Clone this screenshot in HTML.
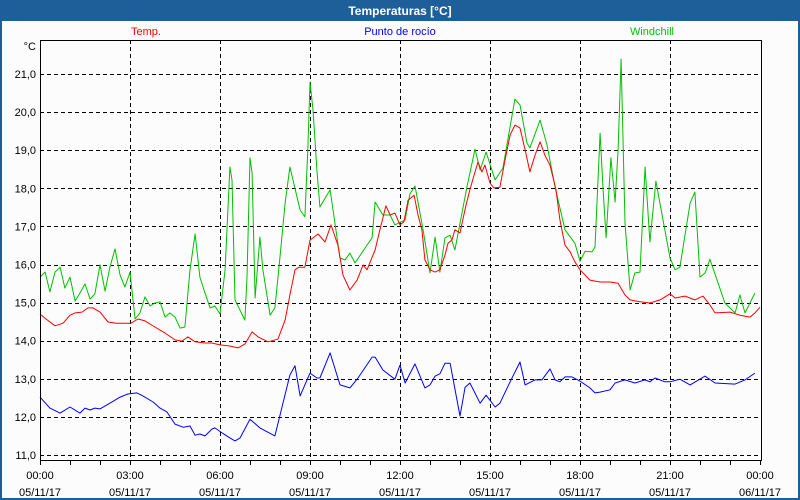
<!DOCTYPE html>
<html><head><meta charset="utf-8"><style>
body{margin:0;background:#fff;}
#win{position:relative;width:800px;height:500px;overflow:hidden;background:#1e5f99;font-family:"Liberation Sans","DejaVu Sans",sans-serif;}
</style></head><body>
<div id="win">
<svg id="c" width="800" height="500" xmlns="http://www.w3.org/2000/svg">
<rect x="2" y="21" width="796" height="477" fill="#fcfcfc"/>
<text x="400" y="15" text-anchor="middle" font-size="12" font-weight="bold" fill="#fff">Temperaturas [°C]</text>
<text x="146" y="35" text-anchor="middle" font-size="11" fill="#ff0000">Temp.</text>
<text x="400" y="35" text-anchor="middle" font-size="11" fill="#0000ff">Punto de rocío</text>
<text x="652" y="35" text-anchor="middle" font-size="11" fill="#00c000">Windchill</text>
<text x="36" y="50" text-anchor="end" font-size="11" fill="#000">°C</text>
<g id="grid" shape-rendering="crispEdges"></g><g id="series"></g><g id="axes"></g>
</svg>
</div>
<script>
const yTicks=[11,12,13,14,15,16,17,18,19,20,21];
const xTicks=[0,3,6,9,12,15,18,21,24];
const xTickTimes=["00:00","03:00","06:00","09:00","12:00","15:00","18:00","21:00","00:00"];
const xTickDates=["05/11/17","05/11/17","05/11/17","05/11/17","05/11/17","05/11/17","05/11/17","05/11/17","06/11/17"];
const tempT=[0,.2,.5,.77,1,1.17,1.4,1.6,1.77,2,2.27,2.53,2.83,3.03,3.27,3.5,3.83,4.17,4.5,4.73,4.93,5.17,5.5,5.73,6,6.33,6.6,6.83,7.07,7.27,7.6,7.93,8.17,8.33,8.5,8.63,8.83,9,9.27,9.5,9.7,9.93,10.1,10.33,10.57,10.77,10.9,11.17,11.33,11.53,11.67,11.83,12,12.13,12.27,12.47,12.6,12.73,12.83,13,13.17,13.33,13.5,13.6,13.73,13.83,14,14.2,14.33,14.47,14.6,14.73,14.83,15,15.13,15.33,15.5,15.67,15.83,16,16.17,16.33,16.5,16.67,16.83,17,17.2,17.33,17.5,17.67,17.83,18,18.33,18.67,19,19.27,19.5,19.67,20,20.33,20.67,21,21.17,21.5,21.83,22.1,22.33,22.5,23,23.33,23.67,23.83,24];
const tempV=[14.7,14.57,14.39,14.46,14.67,14.73,14.75,14.86,14.86,14.75,14.49,14.46,14.46,14.46,14.57,14.52,14.36,14.2,14.02,13.99,14.1,13.97,13.94,13.94,13.89,13.86,13.81,13.91,14.23,14.1,13.97,14.04,14.54,15.2,15.86,15.93,15.93,16.64,16.8,16.59,17.04,16.51,15.72,15.33,15.59,15.99,15.86,16.38,16.91,17.54,17.3,17.35,17.04,17.12,17.69,17.82,17.3,16.91,16.12,15.86,15.8,15.86,16.25,16.56,16.64,16.91,16.83,17.56,17.96,18.35,18.69,18.43,18.61,18.14,18.01,18.03,18.74,19.4,19.66,19.58,19.01,18.43,18.87,19.22,18.87,18.61,17.96,17.17,16.51,16.33,16.07,15.86,15.59,15.54,15.54,15.51,15.2,15.07,15.02,14.99,15.07,15.23,15.12,15.17,15.07,15.17,14.94,14.73,14.75,14.67,14.62,14.73,14.88];
const windT=[0,.17,.33,.5,.67,.83,1,1.17,1.33,1.5,1.67,1.83,2,2.17,2.33,2.5,2.67,2.83,3,3.17,3.33,3.5,3.67,3.83,4,4.17,4.33,4.5,4.67,4.83,5,5.17,5.33,5.5,5.67,5.83,6,6.17,6.33,6.4,6.5,6.83,6.9,7,7.07,7.17,7.33,7.43,7.67,7.83,8,8.17,8.33,8.67,8.83,8.93,9,9.1,9.23,9.33,9.67,10,10.17,10.33,10.5,10.9,11.07,11.17,11.43,11.67,11.83,12.17,12.33,12.5,12.77,13,13.17,13.33,13.5,13.67,13.83,14.23,14.5,14.67,14.87,15.17,15.43,15.83,16,16.23,16.33,16.67,16.9,17.17,17.5,17.83,18,18.17,18.4,18.5,18.67,18.77,18.87,19.03,19.17,19.27,19.37,19.5,19.67,19.83,20,20.17,20.33,20.53,21,21.17,21.33,21.67,21.83,22,22.17,22.33,22.83,23.17,23.33,23.5,23.83];
const windV=[15.67,15.8,15.28,15.8,15.93,15.38,15.67,15.04,15.25,15.49,15.09,15.23,15.99,15.3,15.93,16.41,15.72,15.41,15.8,14.57,14.73,15.15,14.91,14.99,15.02,14.62,14.73,14.62,14.33,14.36,15.86,16.8,15.67,15.25,14.86,14.91,14.7,15.86,18.56,18.22,15.07,14.54,15.67,18.8,18.4,15.12,16.72,15.86,14.67,14.86,16.2,17.61,18.56,17.43,17.25,19.08,20.79,20.06,18.48,17.51,17.96,16.17,16.12,16.3,16.04,16.51,16.7,17.64,17.3,17.3,17.04,17.17,17.85,18.06,16.91,15.78,16.72,15.8,16.7,16.77,16.38,18.03,19.03,18.48,18.95,18.22,18.53,20.34,20.19,19.19,19.06,19.79,19.14,18.03,16.91,16.56,16.09,16.35,16.33,16.46,19.45,17.96,16.7,18.8,17.64,19.01,21.39,17.09,15.33,15.78,15.8,18.56,16.59,18.19,16.17,15.86,15.93,17.61,17.9,15.67,15.78,16.14,14.99,14.73,15.2,14.73,15.25];
const dewT=[0,.33,.67,1,1.33,1.5,1.67,1.83,2,2.33,2.67,2.93,3.23,3.43,3.77,4,4.23,4.5,4.77,5,5.17,5.33,5.5,5.73,5.83,6.07,6.33,6.5,6.67,7,7.33,7.83,8.33,8.5,8.67,9,9.23,9.33,9.67,10,10.33,10.6,11.07,11.17,11.43,11.83,12,12.17,12.5,12.83,13,13.17,13.33,13.5,13.67,14,14.17,14.33,14.67,14.87,15.17,15.33,15.67,16,16.17,16.5,16.73,17,17.17,17.33,17.5,17.73,18,18.33,18.5,18.67,19,19.17,19.5,19.83,20.17,20.33,20.5,20.83,21,21.33,21.67,22.17,22.5,23.17,23.5,23.83];
const dewV=[12.52,12.23,12.1,12.26,12.1,12.23,12.18,12.23,12.21,12.36,12.52,12.6,12.63,12.55,12.39,12.23,12.13,11.81,11.73,11.76,11.52,11.55,11.5,11.68,11.71,11.58,11.45,11.37,11.45,11.94,11.71,11.5,13.1,13.34,12.55,13.15,13.02,13.02,13.68,12.84,12.76,13.02,13.57,13.57,13.23,12.99,13.36,12.89,13.39,12.76,12.84,13.07,13.13,13.41,13.41,12.02,12.78,12.89,12.36,12.57,12.26,12.36,12.92,13.44,12.84,12.97,12.97,13.26,12.97,12.92,13.05,13.05,12.94,12.76,12.63,12.65,12.71,12.89,12.97,12.89,12.97,12.92,13.02,12.92,12.92,12.99,12.84,13.07,12.89,12.86,12.97,13.15];

const NS="http://www.w3.org/2000/svg";
const L=40,R=761,T=40,B=460;
function xs(t){return L+t*30;}
function ys(v){return 455-(v-11)*38.1;}
function mk(tag,attrs,parent){const e=document.createElementNS(NS,tag);for(const k in attrs)e.setAttribute(k,attrs[k]);parent.appendChild(e);return e;}
const grid=document.getElementById('grid'),axes=document.getElementById('axes'),series=document.getElementById('series');
yTicks.forEach(v=>{
  const y=Math.round(ys(v))+0.5;
  const l=mk('line',{x1:L,x2:R,y1:y,y2:y,stroke:'#000','stroke-dasharray':'4,3','stroke-width':1},grid);
  
  
  const tx=mk('text',{x:36,y:ys(v)+4,'text-anchor':'end','font-size':11,fill:'#000'},axes);
  tx.textContent=v.toFixed(1).replace('.',',');
  
  
});
xTicks.forEach((t,i)=>{
  if(t>0&&t<24){
    const l=mk('line',{x1:xs(t)+0.5,x2:xs(t)+0.5,y1:T,y2:B,stroke:'#000','stroke-dasharray':'4,3','stroke-width':1},grid);
    
    
  }
  const a=mk('text',{x:xs(t),y:479,'text-anchor':'middle','font-size':11,fill:'#000'},axes);
  a.textContent=xTickTimes[i];
  
  
  const b=mk('text',{x:xs(t),y:496,'text-anchor':'middle','font-size':11,fill:'#000'},axes);
  b.textContent=xTickDates[i];
  
  
});
for(let h=0;h<=24;h++){
  const l=mk('line',{x1:xs(h)+0.5,x2:xs(h)+0.5,y1:B,y2:B+5,stroke:'#000'},axes);
  
  
}
const frame=mk('rect',{x:L+0.5,y:T+0.5,width:R-L,height:B-T,fill:'none',stroke:'#000','stroke-width':1},axes);


function line(T_,V,color,name){
  const p=T_.map((t,i)=>xs(t).toFixed(1)+','+ys(V[i]).toFixed(1)).join(' ');
  const e=mk('polyline',{points:p,fill:'none',stroke:color,'stroke-width':1,'stroke-linejoin':'round'},series);
  
  
}
line(dewT,dewV,'#0000ff','dewpoint-line');
line(windT,windV,'#00c000','windchill-line');
line(tempT,tempV,'#ff0000','temp-line');
</script>
</body></html>
